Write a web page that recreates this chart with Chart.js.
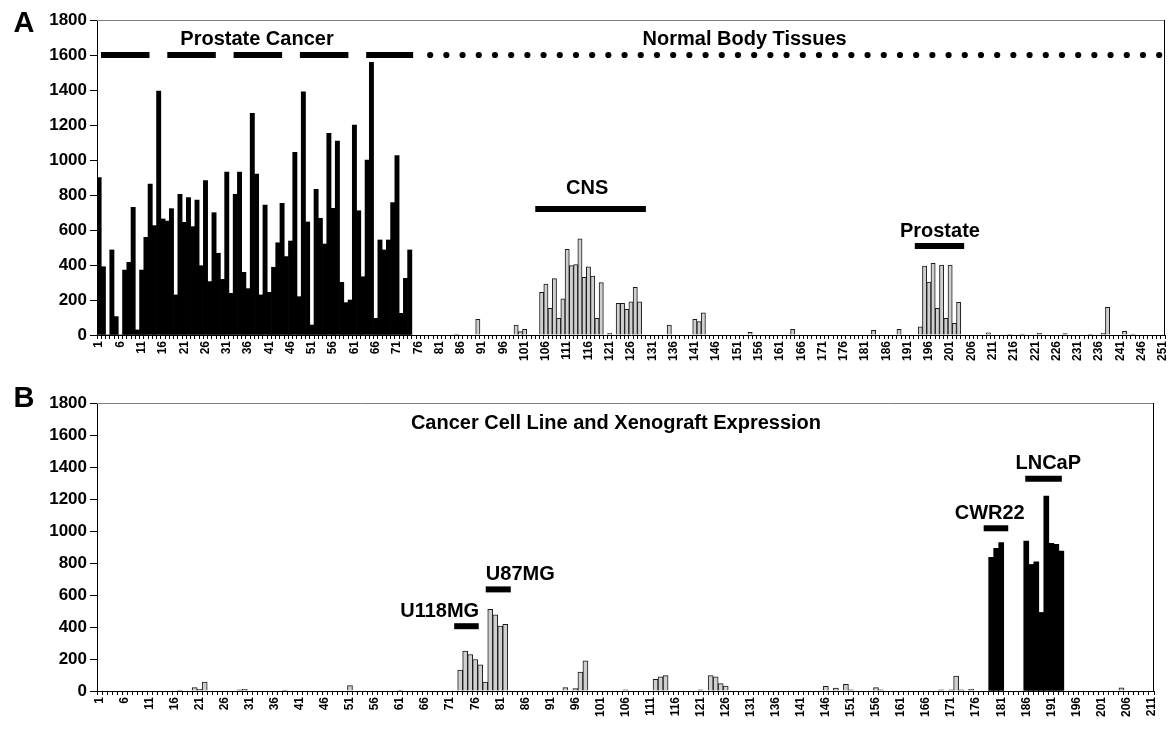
<!DOCTYPE html>
<html><head><meta charset="utf-8">
<script src="https://cdn.jsdelivr.net/npm/chart.js@4.4.1/dist/chart.umd.min.js"></script>
<style>
html,body{margin:0;padding:0;background:#fff;}
#wrap{position:relative;width:1174px;height:734px;overflow:hidden;}
.panel{position:absolute;left:0;width:1174px;}
canvas{display:block;}
</style></head><body>
<div id="wrap">
<div class="panel" style="top:0;height:385px"><canvas id="cA" width="1174" height="385"></canvas></div>
<div class="panel" style="top:385px;height:349px"><canvas id="cB" width="1174" height="349"></canvas></div>
</div>
<script>
// ---------------- DATA ----------------
const nCatA = 251;
const nCatB = 211;
const yTickValues = [0,200,400,600,800,1000,1200,1400,1600,1800];

// Panel A: prostate cancer samples 1..74 (black)
const tumorA = [900,390,0,486,105,0,371,415,730,29,
  371,558,863,625,1394,663,651,722,229,804,
  644,785,619,771,396,882,305,699,467,318,
  931,238,804,931,358,265,1267,920,229,743,
  244,387,527,752,448,537,1044,219,1390,646,
  57,832,667,520,1152,724,1108,301,185,200,
  1200,710,333,1000,1558,95,543,486,543,756,
  1025,124,324,486];

// Panel A: normal body tissues (grey), sample number -> value (others 0)
const normalIdxA = [85,90,99,100,101,105,106,107,108,109,110,111,112,113,114,115,116,117,118,119,121,123,124,125,126,127,128,135,141,142,143,154,164,183,189,194,195,196,197,198,199,200,201,202,203,210,215,218,222,228,234,237,238,242,244];
const normalValA = [5,90,57,19,32,244,291,152,322,95,206,490,396,402,549,330,390,337,95,299,10,181,181,147,189,272,189,57,90,76,126,15,32,27,32,47,394,302,409,152,400,95,400,67,187,13,4,5,10,8,4,10,158,21,5];

// Panel B: cancer cell lines (grey) and xenografts (black)
const lineIdxB = [17,20,21,22,29,30,38,51,61,73,74,75,76,77,78,79,80,81,82,94,96,97,98,106,112,113,114,121,123,124,125,126,146,148,150,151,156,157,169,171,172,173,175,205];
const lineValB = [5,21,10,56,8,10,5,34,5,130,250,228,197,163,56,510,476,405,416,21,15,119,188,8,73,88,96,8,96,88,46,31,29,19,42,8,21,8,8,8,94,8,10,20];
const xenoIdxB = [179,180,181,186,187,188,189,190,191,192,193];
const xenoValB = [835,892,927,937,791,808,491,1219,923,917,875];

// Annotation group labels (text, centre sample, value level)
const groupTextA = ['Prostate Cancer','Normal Body Tissues','CNS','Prostate'];
const groupTextPosA = [38.1, 152.7, 115.7, 198.6];
const groupTextLvlA = [1686, 1686, 838, 594];
// Annotation bars (from sample, to sample, value level, style)
const groupBarFromA = [1.44, 103.5, 192.7];
const groupBarToA   = [74.8, 129.5, 204.3];
const groupBarLvlA  = [1600, 720, 509];
const groupBarDashA = [true, false, false];
const dotFromA = 78.8, dotToA = 251, dotLvlA = 1600;

const groupTextB = ['Cancer Cell Line and Xenograft Expression','U118MG','U87MG','CWR22','LNCaP'];
const groupTextPosB = [104.1, 68.9, 85.0, 178.7, 190.4];
const groupTextLvlB = [1671, 495, 729, 1111, 1424];
const groupBarFromB = [71.8, 78.1, 177.5, 185.8];
const groupBarToB   = [76.7, 83.1, 182.4, 193.1];
const groupBarLvlB  = [405, 635, 1017, 1326];

// ---------------- BUILD ----------------
function cats(n){ const a=[]; for(let i=1;i<=n;i++) a.push(String(i)); return a; }
function sparse(n, idx, val){ const a=new Array(n).fill(null); idx.forEach((k,i)=>{ a[k-1]=val[i]; }); return a; }
function dense(n, vals){ const a=new Array(n).fill(null); vals.forEach((v,i)=>{ a[i]=v; }); return a; }

const FONT = '"Liberation Sans", Arial, sans-serif';

const annotPlugin = {
  id: 'annot',
  afterDatasetsDraw(chart, args, o) {
    const {ctx, chartArea: ca} = chart;
    const x = chart.scales.x, y = chart.scales.y;
    const px = k => x.getPixelForValue(k - 1);
    ctx.save();
    // frame
    ctx.lineWidth = 1;
    ctx.strokeStyle = '#808080';
    ctx.beginPath(); ctx.moveTo(ca.left, Math.round(ca.top)+0.5); ctx.lineTo(ca.right, Math.round(ca.top)+0.5); ctx.stroke();
    ctx.strokeStyle = '#000';
    ctx.beginPath(); ctx.moveTo(Math.round(ca.right)-0.5, ca.top); ctx.lineTo(Math.round(ca.right)-0.5, ca.bottom); ctx.stroke();
    // group bars
    ctx.strokeStyle = '#000'; ctx.lineWidth = 6; ctx.lineCap = 'butt';
    o.barFrom.forEach((f, i) => {
      const yy = y.getPixelForValue(o.barLvl[i]);
      ctx.setLineDash(o.barDash && o.barDash[i] ? [48.5, 17.8] : []);
      ctx.beginPath(); ctx.moveTo(px(f), yy); ctx.lineTo(px(o.barTo[i]), yy); ctx.stroke();
    });
    ctx.setLineDash([]);
    // dotted line
    if (o.dotFrom !== undefined) {
      const x0 = px(o.dotFrom), x1 = px(o.dotTo), yy = y.getPixelForValue(o.dotLvl);
      ctx.fillStyle = '#000';
      for (let xx = x0; xx <= x1 + 0.5; xx += 16.2) {
        ctx.beginPath(); ctx.arc(xx, yy, 3.1, 0, Math.PI*2); ctx.fill();
      }
    }
    // texts
    ctx.fillStyle = '#000';
    ctx.font = 'bold 20px ' + FONT;
    ctx.textAlign = 'center'; ctx.textBaseline = 'middle';
    o.text.forEach((t, i) => {
      ctx.fillText(t, px(o.textPos[i]), y.getPixelForValue(o.textLvl[i]));
    });
    // panel letter
    ctx.font = 'bold 29px ' + FONT;
    ctx.fillText(o.letter, o.letterX, o.letterY);
    ctx.restore();
  }
};

function makeChart(id, n, datasets, plotTop, plotBottom, plotRight, canvasH, annot) {
  return new Chart(document.getElementById(id), {
    type: 'bar',
    data: { labels: cats(n), datasets },
    options: {
      responsive: false, animation: false, devicePixelRatio: 1,
      layout: { padding: { left: 0, right: 1174 - plotRight, top: plotTop, bottom: 0 } },
      plugins: { legend: { display: false }, tooltip: { enabled: false }, annot },
      scales: {
        x: {
          grid: { display: true, drawOnChartArea: false, drawTicks: true, tickLength: 4, color: '#000', offset: true },
          border: { display: true, color: '#000', width: 1 },
          ticks: {
            autoSkip: false, minRotation: 90, maxRotation: 90, padding: 2, color: '#000',
            font: { family: FONT, weight: 'bold', size: 12 },
            callback: function(v, i) { return i % 5 === 0 ? this.getLabelForValue(v) : ''; }
          },
          afterFit: s => { s.height = canvasH - plotBottom; s.paddingLeft = 0; s.paddingRight = 0; }
        },
        y: {
          min: 0, max: 1800,
          afterBuildTicks: s => { s.ticks = yTickValues.map(v => ({ value: v })); },
          grid: { display: true, drawOnChartArea: false, drawTicks: true, tickLength: 7, color: '#000' },
          border: { display: true, color: '#000', width: 1 },
          ticks: { color: '#000', padding: 3, font: { family: FONT, weight: 'bold', size: 17 },
                   callback: v => String(v) },
          afterFit: s => { s.width = 97; s.paddingTop = 0; s.paddingBottom = 0; }
        }
      }
    },
    plugins: [annotPlugin]
  });
}

const barCommon = { barPercentage: 1, categoryPercentage: 1, grouped: false };

makeChart('cA', nCatA, [
  Object.assign({ label: 'Prostate Cancer', data: dense(nCatA, tumorA), backgroundColor: '#000', borderWidth: 0 }, barCommon),
  Object.assign({ label: 'Normal Body Tissues', data: sparse(nCatA, normalIdxA, normalValA), backgroundColor: '#cfcfcf', borderColor: '#1a1a1a', borderWidth: 1 }, barCommon)
], 20, 335, 1165, 385, {
  text: groupTextA, textPos: groupTextPosA, textLvl: groupTextLvlA,
  barFrom: groupBarFromA, barTo: groupBarToA, barLvl: groupBarLvlA, barDash: groupBarDashA,
  dotFrom: dotFromA, dotTo: dotToA, dotLvl: dotLvlA,
  letter: 'A', letterX: 24, letterY: 24
});

makeChart('cB', nCatB, [
  Object.assign({ label: 'Xenograft', data: sparse(nCatB, xenoIdxB, xenoValB), backgroundColor: '#000', borderWidth: 0 }, barCommon),
  Object.assign({ label: 'Cell line', data: sparse(nCatB, lineIdxB, lineValB), backgroundColor: '#cfcfcf', borderColor: '#1a1a1a', borderWidth: 1 }, barCommon)
], 18, 306, 1154, 349, {
  text: groupTextB, textPos: groupTextPosB, textLvl: groupTextLvlB,
  barFrom: groupBarFromB, barTo: groupBarToB, barLvl: groupBarLvlB, barDash: [],
  letter: 'B', letterX: 24, letterY: 14
});
</script>
</body></html>
